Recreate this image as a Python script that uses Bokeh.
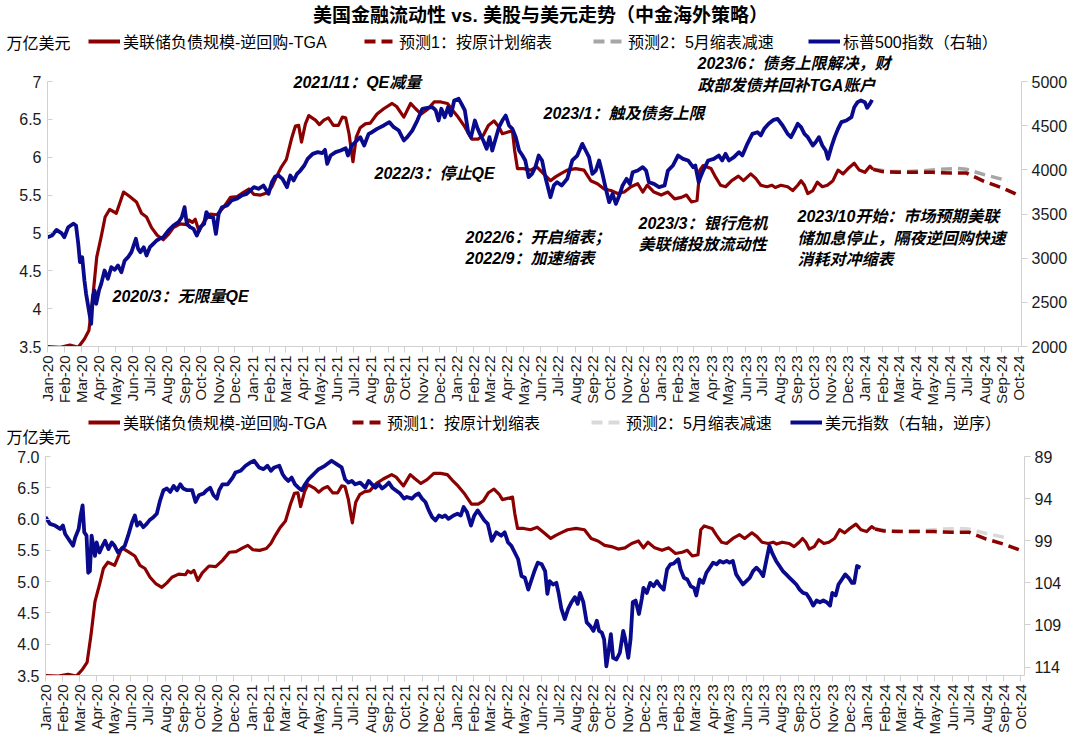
import math
import pandas as pd
from bokeh.plotting import figure
from bokeh.models import (Plot, Range1d, LinearAxis, FixedTicker, DatetimeTickFormatter,
                          NumeralTickFormatter, Label, Legend, LegendItem)
from bokeh.layouts import column
from bokeh.embed import file_html
from bokeh.resources import INLINE

FONT = "Liberation Sans, Noto Sans CJK SC"
RED = "#8B0000"
BLUE = "#0A0A8C"
GRAY1 = "#A6A6A6"
GRAY2 = "#D9D9D9"
AXC = "#D0D0D0"
TXT = "#1A1A1A"
HAS_FA = "frame_align" in Plot.properties()

# ---------------- data ----------------
liq_dates = ["2020-01-01","2020-01-24","2020-02-10","2020-02-25","2020-03-07","2020-03-15","2020-03-22","2020-03-29",
"2020-04-06","2020-04-13","2020-04-21","2020-05-03","2020-05-16","2020-05-27","2020-06-08","2020-06-17","2020-06-26",
"2020-07-05","2020-07-15","2020-07-26","2020-08-04","2020-08-13","2020-08-25","2020-09-06","2020-09-10","2020-09-16",
"2020-09-21","2020-09-28","2020-10-06","2020-10-18","2020-10-30","2020-11-11","2020-11-23","2020-12-05","2020-12-17",
"2020-12-26","2021-01-04","2021-01-16","2021-01-28","2021-02-05","2021-02-13","2021-02-22","2021-03-03","2021-03-12",
"2021-03-19","2021-03-25","2021-03-30","2021-04-06","2021-04-12","2021-04-24","2021-05-01","2021-05-09","2021-05-17",
"2021-05-26","2021-06-04","2021-06-11","2021-06-17","2021-06-23","2021-06-27","2021-06-30","2021-07-06","2021-07-13",
"2021-07-22","2021-07-31","2021-08-12","2021-08-24","2021-09-08","2021-09-16","2021-09-29","2021-10-11","2021-10-20",
"2021-10-30","2021-11-10","2021-11-22","2021-12-04","2021-12-16","2021-12-25","2022-01-04","2022-01-16","2022-01-28",
"2022-02-09","2022-02-18","2022-02-27","2022-03-09","2022-03-18","2022-03-24","2022-04-02","2022-04-11","2022-04-15",
"2022-04-20","2022-05-01","2022-05-13","2022-05-25","2022-06-06","2022-06-18","2022-06-27","2022-07-06","2022-07-18",
"2022-08-02","2022-08-17","2022-08-29","2022-09-10","2022-09-22","2022-10-04","2022-10-16","2022-10-28","2022-11-09",
"2022-11-21","2022-11-30","2022-12-08","2022-12-20","2023-01-02","2023-01-14","2023-01-26","2023-02-07","2023-02-16",
"2023-02-25","2023-03-07","2023-03-12","2023-03-18","2023-04-01","2023-04-09","2023-04-18","2023-04-27","2023-05-08",
"2023-05-20","2023-05-29","2023-06-11","2023-06-20","2023-06-29","2023-07-10","2023-07-19","2023-07-25","2023-08-04",
"2023-08-16","2023-08-25","2023-09-03","2023-09-09","2023-09-15","2023-09-21","2023-09-30","2023-10-08","2023-10-17",
"2023-10-26","2023-11-05","2023-11-14","2023-11-23","2023-12-02","2023-12-13","2023-12-22","2024-01-01","2024-01-10",
"2024-01-16"]
liq_vals = [3.50,3.49,3.52,3.49,3.60,3.71,4.15,4.68,
4.95,5.21,5.31,5.26,5.54,5.48,5.41,5.26,5.21,
5.07,4.97,4.91,4.98,5.07,5.12,5.11,5.17,5.14,
5.18,5.02,5.14,5.25,5.24,5.34,5.47,5.48,5.54,
5.58,5.51,5.50,5.53,5.61,5.74,5.87,5.97,6.24,
6.41,6.42,6.20,6.44,6.55,6.49,6.43,6.49,6.52,
6.42,6.42,6.53,6.52,6.31,6.09,5.94,6.27,6.39,
6.44,6.45,6.57,6.64,6.71,6.67,6.53,6.71,6.64,
6.57,6.63,6.73,6.73,6.71,6.62,6.53,6.40,6.24,
6.24,6.29,6.42,6.48,6.40,6.31,6.33,6.35,6.09,
5.85,5.85,5.83,5.87,5.78,5.69,5.74,5.78,5.83,
5.85,5.83,5.69,5.65,5.58,5.56,5.52,5.54,5.61,
5.65,5.54,5.63,5.54,5.50,5.54,5.45,5.47,5.50,
5.41,5.43,5.83,5.89,5.85,5.74,5.63,5.61,5.69,
5.75,5.69,5.78,5.72,5.63,5.61,5.63,5.60,5.63,
5.61,5.56,5.63,5.69,5.63,5.52,5.56,5.67,5.61,
5.63,5.69,5.83,5.78,5.85,5.92,5.83,5.80,5.88,
5.84]

fc1_dates = ["2024-01-16","2024-02-01","2024-03-01","2024-04-01","2024-05-01","2024-06-01","2024-07-01","2024-08-01","2024-09-01","2024-09-28"]
fc1_vals = [5.84,5.81,5.80,5.80,5.80,5.79,5.79,5.68,5.60,5.51]
fc2_dates = ["2024-01-16","2024-02-15","2024-03-15","2024-04-15","2024-05-15","2024-06-15","2024-07-01","2024-08-01","2024-09-12"]
fc2_vals = [5.84,5.81,5.81,5.82,5.84,5.85,5.84,5.77,5.69]

spx_dates = ["2020-01-01","2020-01-09","2020-01-17","2020-01-26","2020-01-31","2020-02-07","2020-02-16","2020-02-21",
"2020-02-25","2020-02-28","2020-03-03","2020-03-07","2020-03-10","2020-03-15","2020-03-19","2020-03-22","2020-03-25",
"2020-03-28","2020-04-02","2020-04-06","2020-04-12","2020-04-18","2020-04-24","2020-04-30","2020-05-06","2020-05-12",
"2020-05-18","2020-05-24","2020-05-30","2020-06-07","2020-06-11","2020-06-15","2020-06-21","2020-06-26","2020-07-02",
"2020-07-08","2020-07-14","2020-07-19","2020-07-26","2020-08-04","2020-08-13","2020-08-22","2020-08-28","2020-09-02",
"2020-09-06","2020-09-12","2020-09-18","2020-09-24","2020-09-30","2020-10-07","2020-10-11","2020-10-17","2020-10-23",
"2020-10-28","2020-11-02","2020-11-08","2020-11-17","2020-11-25","2020-12-04","2020-12-13","2020-12-22","2021-01-04",
"2021-01-12","2021-01-21","2021-01-30","2021-02-05","2021-02-11","2021-02-17","2021-02-24","2021-03-04","2021-03-10",
"2021-03-16","2021-03-22","2021-03-28","2021-04-04","2021-04-10","2021-04-19","2021-04-28","2021-05-06","2021-05-11",
"2021-05-15","2021-05-21","2021-05-30","2021-06-08","2021-06-17","2021-06-21","2021-06-28","2021-07-07","2021-07-13",
"2021-07-20","2021-07-28","2021-08-03","2021-08-12","2021-08-24","2021-09-03","2021-09-11","2021-09-20","2021-09-29",
"2021-10-05","2021-10-14","2021-10-23","2021-11-01","2021-11-10","2021-11-19","2021-11-25","2021-11-30","2021-12-05",
"2021-12-11","2021-12-17","2021-12-22","2021-12-28","2022-01-05","2022-01-10","2022-01-16","2022-01-22","2022-01-27",
"2022-02-03","2022-02-08","2022-02-12","2022-02-18","2022-02-24","2022-03-01","2022-03-06","2022-03-12","2022-03-18",
"2022-03-24","2022-03-30","2022-04-05","2022-04-11","2022-04-17","2022-04-23","2022-04-29","2022-05-04","2022-05-10",
"2022-05-16","2022-05-22","2022-05-28","2022-06-03","2022-06-09","2022-06-15","2022-06-18","2022-06-24","2022-06-30",
"2022-07-08","2022-07-18","2022-07-27","2022-08-05","2022-08-14","2022-08-20","2022-08-26","2022-09-01","2022-09-07",
"2022-09-13","2022-09-19","2022-09-25","2022-10-01","2022-10-07","2022-10-13","2022-10-19","2022-10-25","2022-11-01",
"2022-11-07","2022-11-12","2022-11-21","2022-11-30","2022-12-06","2022-12-11","2022-12-20","2022-12-29","2023-01-08",
"2023-01-14","2023-01-23","2023-02-01","2023-02-10","2023-02-19","2023-02-28","2023-03-04","2023-03-10","2023-03-13",
"2023-03-18","2023-03-27","2023-04-06","2023-04-15","2023-04-21","2023-04-27","2023-05-03","2023-05-12","2023-05-21",
"2023-05-27","2023-06-05","2023-06-14","2023-06-23","2023-06-29","2023-07-05","2023-07-13","2023-07-22","2023-07-29",
"2023-08-07","2023-08-16","2023-08-22","2023-08-28","2023-09-03","2023-09-09","2023-09-15","2023-09-21","2023-09-30",
"2023-10-05","2023-10-11","2023-10-17","2023-10-23","2023-10-27","2023-11-02","2023-11-08","2023-11-14","2023-11-20",
"2023-11-29","2023-12-08","2023-12-13","2023-12-19","2023-12-25","2024-01-01","2024-01-05","2024-01-10","2024-01-14"]
spx_vals = [3237,3256,3320,3283,3237,3350,3390,3370,
3162,2955,3011,2747,2596,2407,2256,2558,2634,
2483,2634,2709,2860,2766,2898,2868,2917,2841,
2973,3011,3068,3219,3105,3068,3124,3030,3124,
3162,3200,3219,3237,3313,3370,3407,3464,3577,
3389,3351,3332,3256,3351,3389,3521,3464,3464,
3275,3502,3577,3596,3653,3672,3709,3728,3804,
3785,3822,3728,3860,3924,3936,3898,3804,3936,
3879,3955,3992,4049,4124,4181,4200,4189,4226,
4068,4162,4200,4219,4245,4162,4275,4332,4370,
4275,4407,4426,4464,4502,4540,4483,4445,4332,
4370,4445,4558,4691,4702,4709,4672,4558,4691,
4596,4709,4615,4785,4804,4747,4672,4426,4370,
4558,4464,4407,4332,4238,4370,4219,4351,4483,
4558,4615,4502,4464,4370,4219,4162,4106,3917,
3955,4030,4162,4106,3917,3766,3690,3823,3860,
3823,3898,4106,4162,4294,4219,4143,3955,3992,
4106,3955,3785,3634,3728,3615,3709,3823,3898,
3841,3973,3992,4030,3992,3860,3841,3804,3823,
3992,4049,4162,4124,4106,4030,4049,3860,3917,
3992,4106,4124,4162,4106,4181,4106,4143,4200,
4162,4294,4407,4426,4389,4464,4521,4566,4577,
4502,4407,4370,4445,4521,4483,4407,4370,4275,
4313,4370,4275,4219,4124,4257,4370,4464,4540,
4558,4596,4709,4766,4785,4766,4702,4747,4792]

dxy_dates = ["2020-01-01","2020-01-09","2020-01-18","2020-01-27","2020-02-01","2020-02-05","2020-02-13","2020-02-19",
"2020-02-23","2020-02-29","2020-03-03","2020-03-07","2020-03-10","2020-03-14","2020-03-17","2020-03-20","2020-03-23",
"2020-03-26","2020-03-29","2020-04-01","2020-04-06","2020-04-10","2020-04-16","2020-04-22","2020-04-28","2020-05-03",
"2020-05-09","2020-05-15","2020-05-21","2020-05-27","2020-06-03","2020-06-08","2020-06-12","2020-06-17","2020-06-23",
"2020-06-29","2020-07-05","2020-07-11","2020-07-17","2020-07-23","2020-07-29","2020-08-04","2020-08-10","2020-08-16",
"2020-08-22","2020-08-28","2020-09-02","2020-09-09","2020-09-18","2020-09-24","2020-09-30","2020-10-08","2020-10-14",
"2020-10-20","2020-10-26","2020-11-01","2020-11-05","2020-11-11","2020-11-20","2020-11-29","2020-12-04","2020-12-13",
"2020-12-22","2020-12-31","2021-01-06","2021-01-15","2021-01-23","2021-01-30","2021-02-05","2021-02-11","2021-02-20",
"2021-02-26","2021-03-02","2021-03-08","2021-03-14","2021-03-20","2021-03-26","2021-04-01","2021-04-07","2021-04-13",
"2021-04-19","2021-04-25","2021-05-01","2021-05-07","2021-05-12","2021-05-18","2021-05-24","2021-06-02","2021-06-11",
"2021-06-17","2021-06-23","2021-06-29","2021-07-05","2021-07-14","2021-07-23","2021-07-29","2021-08-04","2021-08-10",
"2021-08-16","2021-08-22","2021-08-28","2021-09-03","2021-09-09","2021-09-15","2021-09-23","2021-09-30","2021-10-05",
"2021-10-14","2021-10-20","2021-10-26","2021-11-01","2021-11-07","2021-11-13","2021-11-19","2021-11-25","2021-12-01",
"2021-12-07","2021-12-12","2021-12-18","2021-12-27","2022-01-03","2022-01-09","2022-01-14","2022-01-20","2022-01-27",
"2022-02-02","2022-02-08","2022-02-14","2022-02-20","2022-02-26","2022-03-05","2022-03-13","2022-03-22","2022-03-28",
"2022-04-03","2022-04-09","2022-04-15","2022-04-21","2022-04-27","2022-05-03","2022-05-09","2022-05-15","2022-05-20",
"2022-05-26","2022-06-02","2022-06-08","2022-06-12","2022-06-16","2022-06-22","2022-06-28","2022-07-02","2022-07-07",
"2022-07-13","2022-07-19","2022-07-25","2022-07-31","2022-08-05","2022-08-09","2022-08-15","2022-08-21","2022-08-27",
"2022-09-02","2022-09-08","2022-09-12","2022-09-17","2022-09-21","2022-09-25","2022-09-29","2022-10-03","2022-10-07",
"2022-10-13","2022-10-19","2022-10-25","2022-10-28","2022-11-03","2022-11-07","2022-11-11","2022-11-16","2022-11-22",
"2022-11-27","2022-11-30","2022-12-06","2022-12-12","2022-12-18","2022-12-24","2022-12-30","2023-01-05","2023-01-11",
"2023-01-17","2023-01-23","2023-01-31","2023-02-04","2023-02-10","2023-02-16","2023-02-22","2023-02-28","2023-03-04",
"2023-03-10","2023-03-16","2023-03-22","2023-03-28","2023-04-03","2023-04-09","2023-04-15","2023-04-21","2023-04-27",
"2023-05-02","2023-05-08","2023-05-14","2023-05-20","2023-05-26","2023-06-01","2023-06-07","2023-06-13","2023-06-19",
"2023-06-25","2023-07-01","2023-07-07","2023-07-12","2023-07-18","2023-07-24","2023-07-30","2023-08-05","2023-08-11",
"2023-08-17","2023-08-23","2023-08-29","2023-09-04","2023-09-10","2023-09-16","2023-09-22","2023-09-28","2023-10-04",
"2023-10-10","2023-10-16","2023-10-22","2023-10-28","2023-11-01","2023-11-07","2023-11-12","2023-11-18","2023-11-24",
"2023-11-30","2023-12-06","2023-12-10","2023-12-15","2023-12-21"]
dxy_vals = [96.2,97.0,97.2,97.6,97.2,98.2,99.0,99.6,
98.6,97.6,96.2,94.8,98.0,98.4,102.8,102.6,98.4,
99.6,100.8,99.2,100.4,99.8,99.0,100.0,99.2,99.6,
100.4,100.0,99.6,98.4,96.8,96.0,97.2,96.8,97.4,
97.0,96.5,96.2,95.8,94.2,93.0,92.8,93.2,92.5,
93.0,92.3,92.8,93.0,93.0,94.4,93.6,93.4,93.0,
92.7,93.6,94.0,93.0,92.3,92.3,91.5,90.9,90.7,
90.1,89.7,89.5,90.3,90.5,90.1,90.7,90.3,90.1,
91.1,91.5,91.9,91.5,92.3,92.7,93.0,92.3,91.7,
91.3,90.9,90.5,90.3,90.1,89.8,89.5,89.9,90.3,
91.7,92.1,91.9,92.3,92.1,92.7,91.9,92.3,92.7,
92.3,92.8,92.5,92.1,92.7,93.0,93.4,94.0,93.8,
94.0,93.6,93.4,94.0,94.4,95.4,96.2,96.6,96.0,
96.2,96.0,96.4,96.0,95.8,96.0,95.0,95.6,97.2,
96.0,95.4,96.0,96.6,97.0,99.0,98.0,98.4,98.0,
99.2,99.6,100.4,101.2,103.2,103.4,104.8,103.6,102.6,
101.6,101.8,102.6,105.3,103.8,104.2,104.0,105.2,107.1,
108.3,107.1,106.3,105.7,106.5,105.2,106.3,108.7,109.1,
109.7,108.5,109.7,109.9,110.7,113.9,112.1,110.1,112.9,
113.1,112.3,109.7,110.5,112.9,110.7,106.3,106.1,107.7,
105.9,104.6,105.2,104.0,104.4,103.8,104.4,104.8,102.4,
101.8,101.7,101.2,102.4,103.4,103.6,104.4,104.6,105.5,
103.6,104.0,102.8,102.2,101.6,101.8,101.4,101.6,101.4,
101.6,101.4,103.0,103.6,104.2,103.8,103.4,102.6,102.2,
102.6,103.2,101.2,99.6,100.6,101.4,102.0,102.6,103.0,
103.4,103.8,104.2,104.8,105.2,105.3,105.9,106.7,106.1,
106.3,106.1,106.3,106.7,105.2,105.5,104.2,103.6,103.0,
103.4,104.0,104.0,102.0,102.2]

left_ticks = [3.5, 4.0, 4.5, 5.0, 5.5, 6.0, 6.5, 7.0]
spx_ticks = [2000, 2500, 3000, 3500, 4000, 4500, 5000]
dxy_ticks = [89, 94, 99, 104, 109, 114]

legend_top = ["美联储负债规模-逆回购-TGA", "预测1：按原计划缩表", "预测2：5月缩表减速", "标普500指数（右轴）"]
legend_bot = ["美联储负债规模-逆回购-TGA", "预测1：按原计划缩表", "预测2：5月缩表减速", "美元指数（右轴，逆序）"]
unit_text = "万亿美元"
title_text = "美国金融流动性 vs. 美股与美元走势（中金海外策略）"
notes_top = [
    ("2021/11：QE减量", 293, 82),
    ("2022/3：停止QE", 374, 173),
    ("2020/3：无限量QE", 112, 296),
    ("2022/6：开启缩表；", 465, 237),
    ("2022/9：加速缩表", 465, 258),
    ("2023/1：触及债务上限", 543, 113),
    ("2023/6：债务上限解决，财", 697, 63),
    ("政部发债并回补TGA账户", 697, 85),
    ("2023/3：银行危机", 638, 223),
    ("美联储投放流动性", 638, 244),
    ("2023/10开始：市场预期美联", 797, 216),
    ("储加息停止，隔夜逆回购快速", 797, 238),
    ("消耗对冲缩表", 797, 259),
]

# ---------------- helpers ----------------
def D(lst):
    return pd.to_datetime(lst)

month_ticks = [t.timestamp() * 1000 for t in pd.date_range("2020-01-01", "2024-10-01", freq="MS")]


def no_align(p):
    if HAS_FA:
        p.frame_align = False


def style_axis(ax, size="16px"):
    ax.axis_line_color = AXC
    ax.major_tick_line_color = AXC
    ax.minor_tick_line_color = None
    ax.major_label_text_font = FONT
    ax.major_label_text_font_size = size
    ax.major_label_text_color = TXT


def make_fig(height, bl, br, bt, bb, xend, ytop):
    p = figure(width=1080, height=height, x_axis_type="datetime", output_backend="svg",
               toolbar_location=None, min_border_left=bl, min_border_right=br,
               min_border_top=bt, min_border_bottom=bb,
               x_range=Range1d(pd.Timestamp("2020-01-01"), pd.Timestamp(xend)),
               y_range=Range1d(3.5, ytop))
    no_align(p)
    p.outline_line_color = None
    p.grid.visible = False
    xa = p.xaxis[0]
    xa.ticker = FixedTicker(ticks=month_ticks)
    xa.formatter = DatetimeTickFormatter(days="%b-%y", months="%b-%y", years="%b-%y")
    xa.major_label_orientation = math.pi / 2
    xa.major_tick_out = 6
    xa.major_tick_in = 0
    xa.major_label_standoff = 3
    style_axis(xa, "15px")
    ya = p.yaxis[0]
    ya.ticker = FixedTicker(ticks=left_ticks)
    ya.bounds = (3.5, 7.0)
    ya.major_tick_out = 0
    ya.major_tick_in = 5
    ya.major_label_standoff = 6
    style_axis(ya)
    return p


def make_header(height):
    h = figure(width=1080, height=height, output_backend="svg", toolbar_location=None,
               x_axis_location=None, y_axis_location=None, min_border=0,
               min_border_left=0, min_border_right=0, min_border_top=0, min_border_bottom=0,
               x_range=Range1d(0, 1), y_range=Range1d(0, 1))
    no_align(h)
    h.outline_line_color = None
    h.grid.visible = False
    return h


def add_leg(p, r, text, px, py, fl, fb):
    leg = Legend(items=[LegendItem(label=text, renderers=[r])],
                 location=(px - fl, fb - py - 10), orientation="horizontal",
                 border_line_color=None, background_fill_alpha=0, padding=0, margin=0,
                 spacing=0, glyph_width=32, glyph_height=20, label_height=20,
                 label_standoff=3, label_text_font=FONT, label_text_font_size="16px",
                 label_text_color="#000000")
    p.add_layout(leg)


def add_text(p, text, px, py, fl, fb, size="16px", style="normal", align="left"):
    p.add_layout(Label(x=px - fl, y=fb - py, x_units="screen", y_units="screen", text=text,
                       text_font=FONT, text_font_size=size, text_font_style=style,
                       text_color="#000000", text_align=align, text_baseline="middle"))


def header_swatches(h, dash_color, right_dates, right_vals):
    # the series are drawn far outside the header's 0..1 ranges; they only feed the legend swatches
    a = h.line(D(liq_dates), liq_vals, line_color=RED, line_width=4)
    b = h.line(D(fc1_dates), fc1_vals, line_color=RED, line_width=4, line_dash="11 6")
    c = h.line(D(fc2_dates), fc2_vals, line_color=dash_color, line_width=4, line_dash="11 6")
    d = h.line(D(right_dates), right_vals, line_color=BLUE, line_width=4)
    return a, b, c, d


# ---------------- header of top chart (page y 0..54) ----------------
H1B = 54
h1 = make_header(54)
s1 = header_swatches(h1, GRAY1, spx_dates, spx_vals)
add_text(h1, title_text, 540, 15, 0, H1B, size="19px", style="bold", align="center")
add_text(h1, unit_text, 6, 43, 0, H1B)
for sw, txt, x0 in zip(s1, legend_top, [88, 364, 593, 808]):
    add_leg(h1, sw, txt, x0, 43, 0, H1B)

# ---------------- top chart (page y 54..414) ----------------
FL1, FB1 = 47, 346
ppu1 = 265 / 3.5
ytop1 = 7.0 + (81 - 54) / ppu1
spx_top = 5000 + (81 - 54) * 3000 / 265
p1 = make_fig(360, 47, 59, 0, 68, "2024-10-07", ytop1)
p1.yaxis[0].formatter = NumeralTickFormatter(format="0.[0]")
p1.extra_y_ranges = {"spx": Range1d(2000, spx_top)}
ra = LinearAxis(y_range_name="spx", ticker=FixedTicker(ticks=spx_ticks), bounds=(2000, 5000))
ra.major_tick_out = 6
ra.major_tick_in = 0
ra.major_label_standoff = 4
style_axis(ra)
p1.add_layout(ra, "right")

p1.line(D(liq_dates), liq_vals, line_color=RED, line_width=3.2, line_join="round")
p1.line(D(spx_dates), spx_vals, y_range_name="spx", line_color=BLUE, line_width=3.8, line_join="round")
p1.line(D(fc2_dates), fc2_vals, line_color=GRAY1, line_width=3.5, line_dash="11 6")
p1.line(D(fc1_dates), fc1_vals, line_color=RED, line_width=3.5, line_dash="11 6")

for t, x, y in notes_top:
    add_text(p1, t, x, y, FL1, FB1, style="bold italic")

# ---------------- header of bottom chart (page y 414..446) ----------------
H2B = 446
h2 = make_header(32)
s2 = header_swatches(h2, GRAY2, dxy_dates, dxy_vals)
add_text(h2, unit_text, 6, 437, 0, H2B)
for sw, txt, x0 in zip(s2, legend_bot, [88, 352, 591, 790]):
    add_leg(h2, sw, txt, x0, 424, 0, H2B)

# ---------------- bottom chart (page y 446..745) ----------------
p2 = make_fig(299, 45, 56, 10, 70, "2024-10-08", 7.0)
p2.yaxis[0].formatter = NumeralTickFormatter(format="0.0")
p2.extra_y_ranges = {"dxy": Range1d(start=115, end=89)}
rb = LinearAxis(y_range_name="dxy", ticker=FixedTicker(ticks=dxy_ticks))
rb.major_tick_out = 6
rb.major_tick_in = 0
rb.major_label_standoff = 4
style_axis(rb)
p2.add_layout(rb, "right")

p2.line(D(liq_dates), liq_vals, line_color=RED, line_width=3.2, line_join="round")
p2.line(D(dxy_dates), dxy_vals, y_range_name="dxy", line_color=BLUE, line_width=3.8, line_join="round")
p2.line(D(fc2_dates), fc2_vals, line_color=GRAY2, line_width=3.5, line_dash="11 6")
p2.line(D(fc1_dates), fc1_vals, line_color=RED, line_width=3.5, line_dash="11 6")

layout = column(h1, p1, h2, p2, spacing=0)
open("out.html", "w").write(file_html(layout, INLINE))
